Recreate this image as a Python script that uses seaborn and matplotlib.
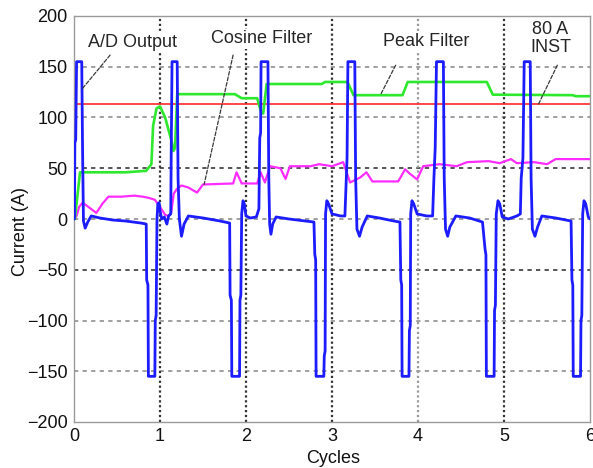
import numpy as np
import pandas as pd
import matplotlib
matplotlib.use("Agg")
import matplotlib.pyplot as plt
import seaborn as sns

# ---------------------------------------------------------------------------
# Relay input and filter outputs over six power-system cycles
# ---------------------------------------------------------------------------

# A/D converter output (clipped at +/-155 A)
ad_t = [0.0, 0.005, 0.01, 0.02, 0.03, 0.09, 0.10, 0.11, 0.13, 0.16, 0.20, 0.30, 0.45, 0.60, 0.78, 0.84,
        0.845, 0.86, 0.865, 0.94, 0.945, 0.955, 0.965, 0.975, 0.99, 1.00, 1.02, 1.05, 1.08, 1.10, 1.125,
        1.13, 1.14, 1.20, 1.21, 1.225, 1.25, 1.28, 1.33, 1.50, 1.70, 1.81,
        1.815, 1.83, 1.835, 1.925, 1.93, 1.94, 1.95, 1.965, 1.98, 2.00, 2.05, 2.12, 2.15,
        2.16, 2.17, 2.175, 2.255, 2.265, 2.275, 2.29, 2.31, 2.35, 2.50, 2.70, 2.79,
        2.80, 2.81, 2.815, 2.905, 2.91, 2.92, 2.925, 2.94, 2.96, 3.00, 3.10, 3.15,
        3.16, 3.175, 3.185, 3.265, 3.275, 3.29, 3.32, 3.35, 3.41, 3.55, 3.72, 3.79,
        3.80, 3.81, 3.815, 3.895, 3.90, 3.91, 3.915, 3.93, 3.95, 3.99, 4.10, 4.17,
        4.185, 4.20, 4.215, 4.295, 4.305, 4.32, 4.345, 4.37, 4.44, 4.60, 4.75,
        4.78, 4.79, 4.795, 4.885, 4.89, 4.90, 4.91, 4.93, 4.95, 4.98, 5.05, 5.15, 5.19,
        5.20, 5.22, 5.235, 5.305, 5.315, 5.33, 5.36, 5.39, 5.44, 5.60, 5.78,
        5.79, 5.80, 5.805, 5.89, 5.895, 5.905, 5.915, 5.93, 5.95, 5.98, 6.00]
ad_a = [0, 0, 75, 78, 155, 155, 65, -2, -9, -3, 3, 1, -1, -2, -4, -5,
        -60, -65, -155, -155, -100, -95, 0, 15, 16, 8, 0, 2, -5, 3, 5,
        60, 155, 155, 40, 0, -17, -5, 3, 1, -2, -4,
        -75, -80, -155, -155, -80, -75, 5, 18, 15, 3, 1, 2, 10,
        80, 85, 155, 155, 40, -5, -15, -5, 2, 0, -2, -3,
        -35, -40, -155, -155, -135, -130, 5, 18, 15, 5, 3, 3,
        25, 60, 155, 155, 40, -10, -17, -8, 3, 1, -2, -3,
        -60, -65, -155, -155, -110, -105, 5, 18, 15, 5, 3, 3,
        40, 70, 155, 155, 40, -10, -17, -8, 3, 1, -3,
        -30, -35, -155, -155, -90, -85, 5, 18, 15, 2, 0, 3, 5,
        40, 60, 155, 155, 40, -10, -17, -8, 3, 1, -2,
        -60, -65, -155, -155, -100, -95, 5, 18, 15, 2, 0]

# Peak filter output
peak_t = [0.0, 0.01, 0.07, 0.30, 0.60, 0.84, 0.90, 0.92, 0.96, 1.00, 1.06, 1.14, 1.155, 1.175, 1.20,
          1.87, 1.95, 2.13, 2.18, 2.20, 2.24, 2.88, 2.92, 3.18, 3.25, 3.82, 3.88, 4.80, 4.87,
          5.80, 5.83, 6.00]
peak_a = [0, 0, 46, 46, 46, 47.5, 54, 92, 109, 111, 100, 75, 67, 70, 123,
          123, 119, 119, 104, 104, 133, 133, 135, 135, 122, 122, 135, 135, 122.5,
          122, 121, 121]

# Cosine filter output
cos_t = [0.0, 0.03, 0.06, 0.10, 0.15, 0.26, 0.33, 0.40, 0.55, 0.70, 0.80, 0.86, 0.94, 1.00, 1.06,
         1.10, 1.13, 1.16, 1.20, 1.25, 1.33, 1.43, 1.50, 1.85, 1.89, 1.95, 2.13, 2.17, 2.22, 2.28,
         2.40, 2.46, 2.51, 2.75, 2.85, 3.00, 3.13, 3.21, 3.33, 3.40, 3.47, 3.77, 3.85, 3.90,
         3.99, 4.06, 4.25, 4.45, 4.57, 4.82, 4.95, 5.08, 5.15, 5.35, 5.50, 5.60, 6.00]
cos_a = [0, 3, 12, 16, 13, 6, 15, 22, 22, 23, 22, 21, 19, 12, 4,
         3, 6, 25, 30, 33, 31, 26, 34, 35, 46, 35, 35, 46, 36, 52,
         50, 39.5, 52, 52, 54, 52, 56, 36, 41, 46, 37, 37, 49, 45,
         39, 52, 54, 52, 56, 57, 55, 59, 55, 56, 54, 59, 59]

# Instantaneous overcurrent pickup: 80 A rms, compared against peak amplitude
inst_rms = 80
inst_level = inst_rms * np.sqrt(2)

# Annotation texts, text anchors, leader starts and the cycle each leader points at
labels = ["A/D Output", "Cosine Filter", "Peak Filter", "80 A\nINST"]
label_xy = [(0.68, 173.5), (2.18, 177.5), (4.10, 175.0), (5.54, 178.0)]
leader_from = [(0.42, 161.5), (1.85, 161.5), (3.74, 151.5), (5.62, 151.5)]
leader_at_t = [0.093, 1.513, 3.562, 5.401]

# ---------------------------------------------------------------------------
sns.set_style("white")
plt.rcParams["font.family"] = ["Liberation Sans", "DejaVu Sans"]
plt.rcParams["axes.unicode_minus"] = True

fig = plt.figure(figsize=(5.93, 4.68), dpi=100)
ax = fig.add_axes([74 / 593, 46 / 468, 516 / 593, 406 / 468])

# grid: light horizontal dashes, dark dotted cycle markers
for yv in [-150, -100, -50, 0, 50, 100, 150]:
    dark = yv in (-50, 50)
    ax.axhline(yv, color="#555555" if dark else "#a0a0a0", lw=1.4,
               ls=(0, (2.2, 2.2)), zorder=0)
for xv in [1, 2, 3, 4, 5]:
    dark = xv != 4
    ax.axvline(xv, color="#333333" if dark else "#9a9a9a", lw=1.6,
               ls=(0, (1.0, 1.2)), zorder=0)

df_ad = pd.DataFrame({"t": ad_t, "a": ad_a})
df_pk = pd.DataFrame({"t": peak_t, "a": peak_a})
df_cs = pd.DataFrame({"t": cos_t, "a": cos_a})

ax.axhline(inst_level, color="#ff2a2a", lw=1.2, zorder=2)
sns.lineplot(data=df_cs, x="t", y="a", ax=ax, color="#ff2cff", lw=1.6,
             estimator=None, sort=False, zorder=3)
sns.lineplot(data=df_pk, x="t", y="a", ax=ax, color="#2ee82e", lw=1.9,
             estimator=None, sort=False, zorder=4)
sns.lineplot(data=df_ad, x="t", y="a", ax=ax, color="#1c1cff", lw=2.0,
             estimator=None, sort=False, zorder=5)

# leader targets
series_for_label = [(ad_t, ad_a), (cos_t, cos_a), (peak_t, peak_a), None]
for txt, (tx, ty), (lx, ly), t_at, ser in zip(labels, label_xy, leader_from,
                                              leader_at_t, series_for_label):
    y_at = inst_level if ser is None else float(np.interp(t_at, ser[0], ser[1]))
    ax.annotate("", xy=(t_at, y_at), xytext=(lx, ly),
                arrowprops=dict(arrowstyle="-", color="#3a3a3a", lw=0.9,
                                linestyle=(0, (3, 1.5)), shrinkA=0, shrinkB=0),
                zorder=6)
    ax.text(tx, ty, txt, ha="center", va="center", fontsize=13,
            linespacing=1.05, zorder=7,
            bbox=dict(facecolor="white", edgecolor="none", pad=1.0))

ax.set_xlim(0, 6)
ax.set_ylim(-200, 200)
ax.set_xticks(range(0, 7))
ax.set_yticks(range(-200, 201, 50))
ax.tick_params(axis="both", length=0, labelsize=13, colors="#111111")
ax.tick_params(axis="y", pad=4.5)
ax.tick_params(axis="x", pad=4.0)
ax.set_xlabel("Cycles", fontsize=13, color="#111111")
ax.set_ylabel("Current (A)", fontsize=13, color="#111111")
ax.xaxis.set_label_coords(0.502, -0.07)
ax.yaxis.set_label_coords(-0.088, 0.47)
for sp in ax.spines.values():
    sp.set_color("#9a9a9a")
    sp.set_linewidth(1.0)

fig.savefig("out.png", dpi=100)
